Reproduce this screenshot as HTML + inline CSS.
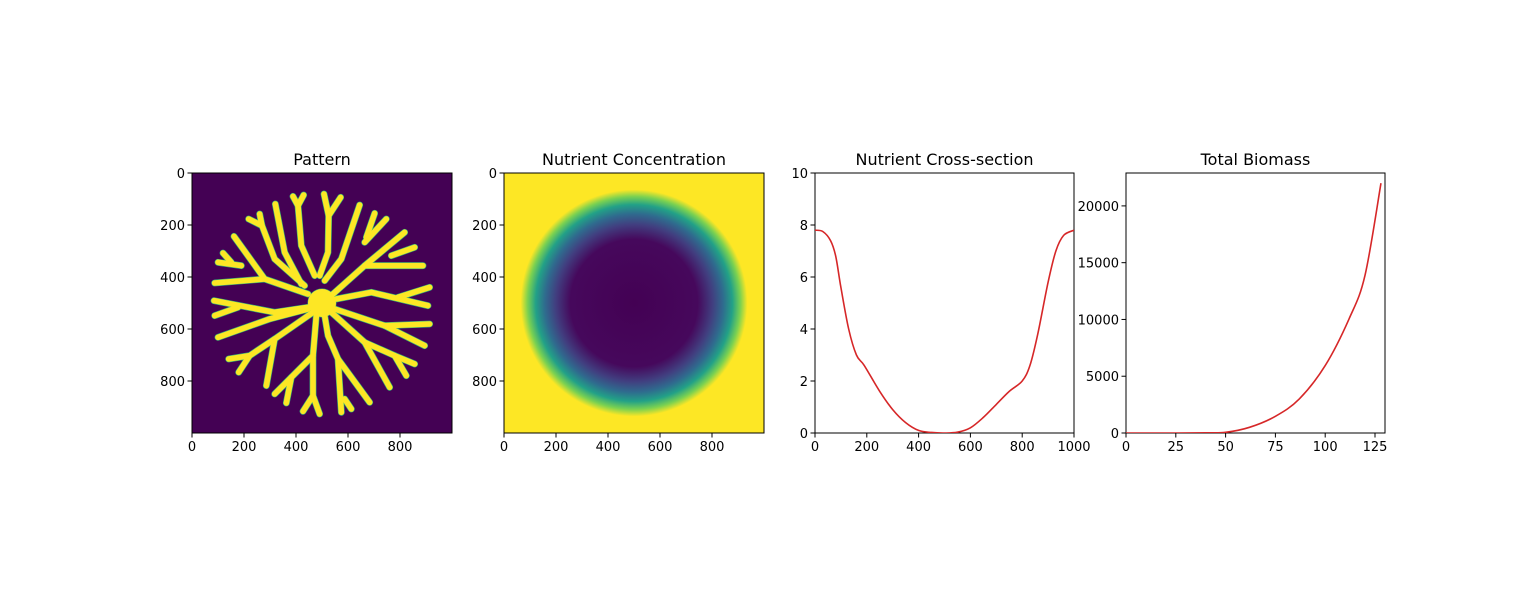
<!DOCTYPE html>
<html><head><meta charset="utf-8"><style>
body{margin:0;background:#fff;width:1539px;height:600px;overflow:hidden}
svg{font-family:"DejaVu Sans","Liberation Sans",sans-serif}
</style></head><body>
<svg id="fig" width="1539" height="600" xmlns="http://www.w3.org/2000/svg">
<defs>
<radialGradient id="nutr" cx="0.5" cy="0.5" r="0.5">
<stop offset="0" stop-color="#440154"/>
<stop offset="0.55" stop-color="#46085c"/>
<stop offset="0.68" stop-color="#413f80"/>
<stop offset="0.77" stop-color="#2f6b8e"/>
<stop offset="0.85" stop-color="#22a187"/>
<stop offset="0.92" stop-color="#7ad151"/>
<stop offset="0.98" stop-color="#fde725"/>
<stop offset="1" stop-color="#fde725"/>
</radialGradient>
<clipPath id="c1"><rect x="192" y="173" width="260" height="260"/></clipPath>
<clipPath id="c3"><rect x="815" y="173" width="259" height="260"/></clipPath>
<clipPath id="c4"><rect x="1126" y="173" width="259" height="260"/></clipPath>
</defs>
<g id="g1"></g>
<g id="g2"></g>
<g id="g3"></g>
<g id="g4"></g>
</svg>
<script>
const branches = [
[[405,330],[430,260],[432,150],[418,85]],[[432,150],[468,95]],
[[390,330],[350,240],[340,120],[325,92]],[[340,120],[357,88]],
[[360,360],[270,280],[232,180],[225,145]],[[232,180],[192,160]],
[[350,355],[300,260],[272,115]],
[[370,385],[240,340],[148,212]],[[240,340],[90,352]],[[170,300],[100,290]],[[140,290],[115,262]],
[[370,425],[270,440],[88,405]],[[160,425],[90,450]],
[[370,430],[255,460],[100,515]],
[[385,440],[270,520],[245,660]],[[270,520],[195,570],[132,580]],[[195,570],[162,620]],
[[395,450],[385,570],[320,635],[270,685]],[[320,635],[305,712]],[[385,570],[385,690],[355,737]],[[385,690],[405,745]],
[[420,450],[430,510],[460,580],[470,740]],[[480,700],[500,730]],[[460,580],[555,710]],
[[440,440],[540,530],[615,665]],[[540,530],[630,570],[690,595]],[[630,570],[665,630]],
[[450,430],[600,480],[720,540]],[[600,480],[735,475]],
[[455,400],[560,380],[730,420]],[[640,395],[735,365]],
[[445,385],[540,300],[715,300]],[[620,270],[690,245]],[[540,300],[660,200]],
[[420,345],[470,280],[525,118]],[[540,230],[605,160]],[[545,215],[570,143]]
];
const pixTicks=[0,200,400,600,800];
const csX=[0,30,60,80,100,130,160,190,250,300,350,400,450,500,550,600,650,700,750,800,830,860,900,930,960,1000];
const csY=[7.8,7.75,7.4,6.8,5.6,4.0,3.0,2.6,1.6,0.9,0.4,0.1,0.02,0,0.03,0.2,0.6,1.1,1.6,2.0,2.6,3.8,5.8,7.0,7.6,7.8];
const csXTicks=[0,200,400,600,800,1000];
const csYTicks=[0,2,4,6,8,10];
const bmX=[0,25,40,50,62,75,87,100,112,120,128];
const bmY=[0,0,20,60,500,1470,3000,5940,10060,13900,22000];
const bmXTicks=[0,25,50,75,100,125];
const bmYTicks=[0,5000,10000,15000,20000];

const NS="http://www.w3.org/2000/svg";
function mk(p,tag,at){const e=document.createElementNS(NS,tag);for(const k in at)e.setAttribute(k,at[k]);p.appendChild(e);return e;}
function smooth(pts){let d='M'+pts[0][0]+','+pts[0][1];
  for(let i=0;i<pts.length-1;i++){const p0=pts[Math.max(0,i-1)],p1=pts[i],p2=pts[i+1],p3=pts[Math.min(pts.length-1,i+2)];
    const c1=[p1[0]+(p2[0]-p0[0])/6,p1[1]+(p2[1]-p0[1])/6],c2=[p2[0]-(p3[0]-p1[0])/6,p2[1]-(p3[1]-p1[1])/6];
    d+=' C'+c1+' '+c2+' '+p2;}
  return d;}
function axes(g,L,T,W,H,xt,yt,sx,sy,title){
  const t=mk(g,'text',{x:L+W/2,y:T-8,'text-anchor':'middle','font-size':16,fill:'#000'});t.textContent=title;
  
  
  mk(g,'rect',{x:L,y:T,width:W,height:H,fill:'none',stroke:'#000','stroke-width':1});
  xt.forEach(v=>{const x=sx(v);mk(g,'line',{x1:x,x2:x,y1:T+H,y2:T+H+4.5,stroke:'#000'});
    const tx=mk(g,'text',{x:x,y:T+H+18,'text-anchor':'middle','font-size':13});tx.textContent=v;
    
    });
  yt.forEach(v=>{const y=sy(v);mk(g,'line',{x1:L-4.5,x2:L,y1:y,y2:y,stroke:'#000'});
    const tx=mk(g,'text',{x:L-7,y:y+5,'text-anchor':'end','font-size':13});tx.textContent=v;
    
    });
}
const g1=document.getElementById('g1');
const p1x=v=>192+v*0.26, p1y=v=>173+v*0.26;
const cg=mk(g1,'g',{'clip-path':'url(#c1)'});
mk(cg,'rect',{x:192,y:173,width:260,height:260,fill:'#440154'});
const d=z=>(z-22)*1.282;
const ptsList=branches.map(b=>b.map(p=>p1x(d(p[0]))+','+p1y(d(p[1]))).join(' '));
ptsList.forEach(pts=>{mk(cg,'polyline',{points:pts,fill:'none',stroke:'#35b779','stroke-width':6.8,'stroke-linecap':'round','stroke-linejoin':'round'});});
mk(cg,'circle',{cx:p1x(500),cy:p1y(500),r:14.5,fill:'#35b779'});
ptsList.forEach(pts=>{
  const e2=mk(cg,'polyline',{points:pts,fill:'none',stroke:'#fde725','stroke-width':5.6,'stroke-linecap':'round','stroke-linejoin':'round'});
  
  
});
const hub=mk(cg,'circle',{cx:p1x(500),cy:p1y(500),r:14,fill:'#fde725'});


axes(g1,192,173,260,260,pixTicks,pixTicks,p1x,p1y,'Pattern');
const g2=document.getElementById('g2');
const p2x=v=>504+v*0.26;
mk(g2,'rect',{x:504,y:173,width:260,height:260,fill:'#fde725'});
const hm=mk(g2,'circle',{cx:p2x(500),cy:p1y(500),r:0.26*445,fill:'url(#nutr)'});


axes(g2,504,173,260,260,pixTicks,pixTicks,p2x,p1y,'Nutrient Concentration');
const g3=document.getElementById('g3');
const p3x=v=>815+v*0.259, p3y=v=>433-v*26;
axes(g3,815,173,259,260,csXTicks,csYTicks,p3x,p3y,'Nutrient Cross-section');
const l3=mk(g3,'path',{d:smooth(csX.map((x,i)=>[p3x(x),p3y(csY[i])])),fill:'none',stroke:'#d62728','stroke-width':1.6,'clip-path':'url(#c3)'});


const g4=document.getElementById('g4');
const p4x=v=>1126+v*1.992, p4y=v=>433-v*0.011355;
axes(g4,1126,173,259,260,bmXTicks,bmYTicks,p4x,p4y,'Total Biomass');
const l4=mk(g4,'path',{d:smooth(bmX.map((x,i)=>[p4x(x),p4y(bmY[i])])),fill:'none',stroke:'#d62728','stroke-width':1.6,'clip-path':'url(#c4)'});


</script>
</body></html>
